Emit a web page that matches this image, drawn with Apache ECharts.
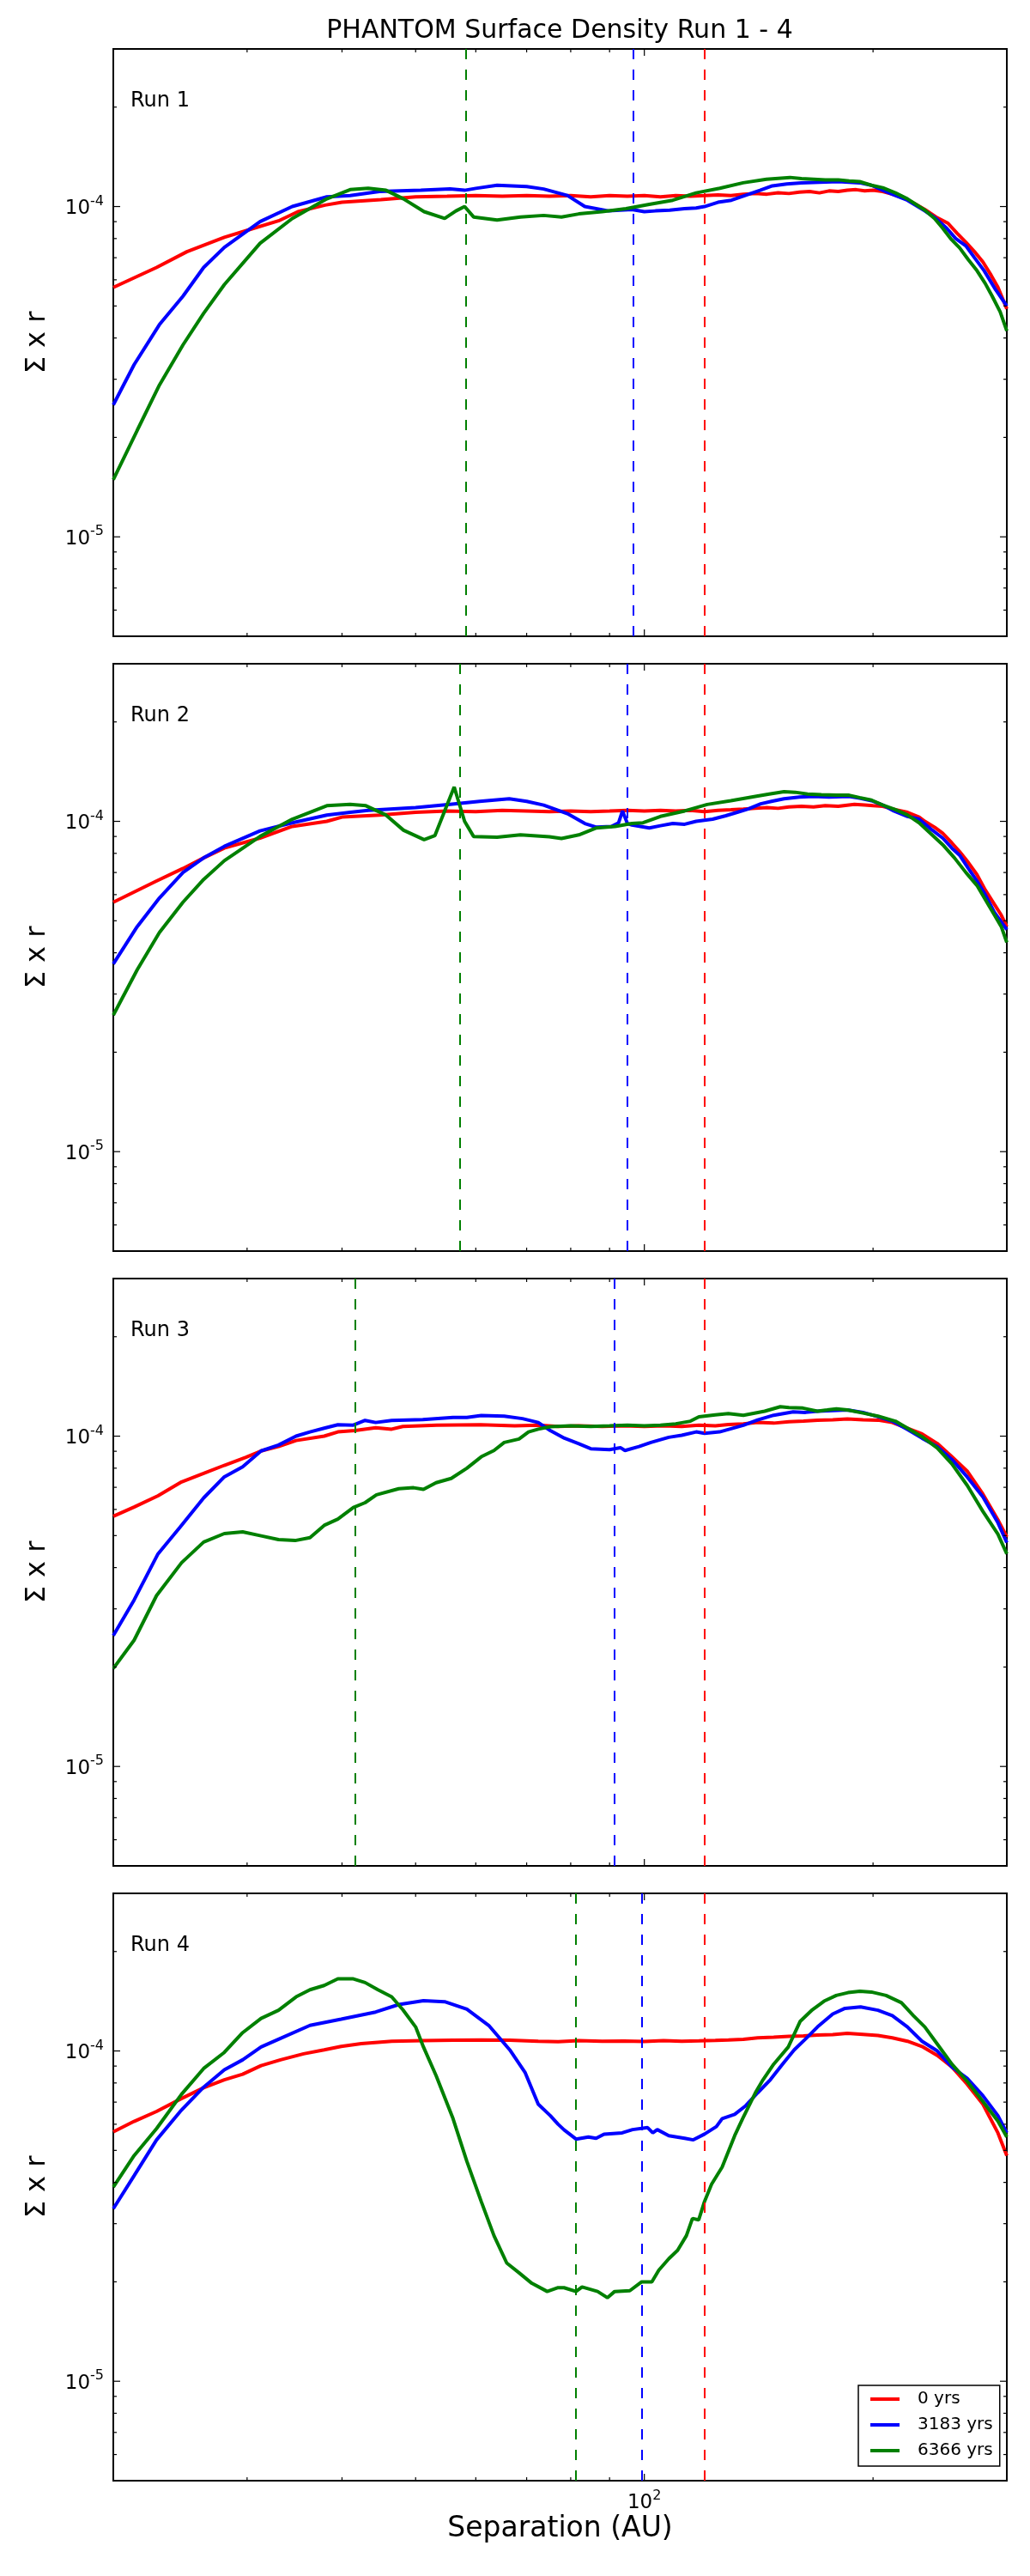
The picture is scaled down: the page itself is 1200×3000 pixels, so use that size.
<!DOCTYPE html>
<html>
<head>
<meta charset="utf-8">
<title>PHANTOM Surface Density Run 1 - 4</title>
<script src="https://cdn.jsdelivr.net/npm/echarts/dist/echarts.min.js"></script>
<style>
  html, body { margin: 0; padding: 0; background: #fff; }
  #chart { width: 1200px; height: 3000px; }
</style>
</head>
<body>
<div id="chart"></div>
<script>
// radius in AU, Σ x r in units of 1e-5
const run1Red = [[20,5.69],[22.8,6.54],[25,7.3],[28,8.07],[30,8.47],[33,9.05],[35,9.65],[38,10.1],[40,10.3],[45,10.5],[50,10.7],[55,10.75],[60,10.8],[65,10.75],[70,10.8],[75,10.75],[80,10.8],[85,10.7],[90,10.8],[95,10.75],[100,10.8],[105,10.7],[110,10.8],[115,10.75],[120,10.8],[125,10.85],[130,10.8],[135,10.9],[140,10.95],[145,10.9],[150,11.0],[155,10.95],[160,11.05],[165,11.1],[170,11.0],[175,11.15],[180,11.1],[185,11.2],[190,11.25],[195,11.15],[200,11.2],[206,11.1],[212,10.9],[220,10.6],[227,10.2],[234,9.8],[242,9.3],[251,8.9],[258,8.3],[265,7.8],[272,7.3],[279,6.8],[286,6.2],[292,5.7],[300,4.9]];
const run1Blue = [[20,2.51],[21.3,3.32],[23,4.39],[24.7,5.35],[26.3,6.54],[28,7.52],[31.2,9.0],[34.4,10.0],[38.2,10.7],[41,10.8],[44.8,11.1],[50.8,11.2],[55.5,11.3],[58,11.2],[60,11.35],[64,11.6],[70,11.5],[73.7,11.3],[79.2,10.8],[83.5,10.0],[89.7,9.7],[96.3,9.8],[100,9.65],[103.4,9.7],[108,9.75],[112.9,9.85],[117,9.9],[120,10.0],[125,10.3],[130.2,10.45],[137.3,10.9],[142,11.2],[147.4,11.55],[154,11.7],[161,11.8],[170,11.85],[180,11.9],[186,11.85],[192,11.8],[199,11.6],[206,11.2],[214,10.8],[222,10.45],[234,9.7],[242,9.2],[250,8.6],[257,8.0],[265,7.6],[272,7.0],[280,6.4],[290,5.6],[300,5.0]];
const run1Green = [[20,1.49],[21.5,2.1],[23,2.88],[24.7,3.81],[26.3,4.75],[28,5.8],[31.2,7.74],[34.4,9.2],[38.2,10.55],[41,11.25],[43.3,11.36],[45.7,11.2],[48.2,10.55],[51.3,9.65],[54.6,9.2],[56.5,9.7],[58,10.0],[59.6,9.3],[64,9.1],[68.7,9.3],[73.7,9.4],[77.8,9.3],[82,9.5],[88,9.65],[94.6,9.85],[101.5,10.15],[109,10.45],[117,11.0],[125.7,11.36],[134.9,11.8],[144.8,12.1],[155.5,12.25],[161,12.15],[167,12.1],[173,12.05],[180,12.05],[186,11.95],[192,11.9],[199,11.6],[206,11.4],[214,11.0],[222,10.55],[234,9.75],[241,9.2],[247,8.6],[253,8.0],[260,7.5],[267,6.9],[274,6.4],[281,5.85],[287,5.35],[294,4.8],[300,4.2]];
const run1Cuts = [120, 96.6, 58.2];

const run2Red = [[20,5.69],[22.8,6.6],[24.7,7.2],[26.3,7.75],[28,8.3],[31.2,8.9],[34.4,9.65],[38.2,10.0],[40,10.3],[44.8,10.45],[50,10.65],[55,10.75],[60,10.7],[65,10.8],[70,10.75],[75,10.7],[80,10.75],[85,10.7],[90,10.75],[95,10.8],[100,10.75],[105,10.8],[110,10.75],[115,10.8],[120,10.7],[125,10.8],[130,10.85],[135,10.9],[140,10.95],[145,11.0],[150,10.95],[155,11.05],[161,11.1],[167,11.05],[173,11.15],[180,11.1],[189,11.25],[195,11.2],[200,11.15],[206,11.1],[214,10.85],[222,10.65],[230,10.3],[234,10.0],[241,9.6],[247,9.2],[254,8.6],[260,8.1],[267,7.5],[274,6.9],[281,6.2],[289,5.6],[295,5.2],[300,4.8]];
const run2Blue = [[20,3.7],[21.5,4.8],[23,5.86],[24.7,7.0],[26.3,7.75],[28,8.4],[31.2,9.36],[34.4,9.9],[38.2,10.45],[41,10.65],[43.3,10.8],[50,11.0],[55.5,11.25],[60.7,11.5],[66.4,11.7],[70,11.5],[73.7,11.2],[79.2,10.55],[83.5,9.85],[86.5,9.6],[90.5,9.65],[92.5,9.9],[93.6,10.75],[95,9.85],[96.3,9.75],[101.5,9.55],[105,9.7],[109,9.85],[113,9.8],[117,10.0],[123,10.15],[128,10.4],[132.5,10.65],[137,10.9],[142.3,11.3],[147,11.5],[152.7,11.7],[160,11.85],[167,11.9],[175,11.85],[186,11.9],[192,11.75],[199,11.55],[206,11.2],[213,10.75],[222,10.35],[230,10.15],[238,9.5],[247,8.9],[254,8.3],[260,7.9],[267,7.2],[274,6.6],[281,6.0],[289,5.3],[300,4.7]];
const run2Green = [[20,2.59],[21.5,3.55],[23,4.61],[24.7,5.69],[26.3,6.67],[28,7.6],[31.2,9.0],[34.4,10.15],[38.2,11.15],[41,11.25],[43,11.15],[45.7,10.45],[48.2,9.4],[51.3,8.8],[53,9.05],[56.2,12.7],[58,10.0],[59.6,9.0],[64,8.95],[68.7,9.1],[75,8.98],[77.8,8.87],[82,9.1],[86.5,9.55],[91.5,9.65],[96.3,9.85],[99.6,9.9],[105,10.35],[113,10.75],[121,11.25],[130,11.55],[140,11.9],[146,12.1],[152.7,12.3],[158,12.25],[164,12.1],[171,12.05],[179,12.0],[186,12.0],[192,11.8],[199,11.6],[206,11.2],[214,10.85],[222,10.45],[230,9.9],[238,9.2],[247,8.5],[256,7.75],[265,7.0],[274,6.4],[281,5.8],[289,5.2],[295,4.8],[300,4.3]];
const run2Cuts = [120, 94.9, 57.2];

const run3Red = [[20,5.72],[21.3,6.1],[22.9,6.6],[24.6,7.27],[26.3,7.71],[28,8.16],[29.9,8.63],[31.3,9.02],[33,9.3],[34.8,9.7],[37.9,10.0],[39.5,10.3],[41.6,10.4],[44.3,10.6],[46.5,10.5],[48.1,10.7],[53.3,10.8],[60.9,10.83],[67.5,10.75],[72.5,10.8],[77,10.7],[82,10.75],[88,10.7],[94,10.75],[100,10.7],[106,10.75],[112,10.7],[118,10.8],[124,10.75],[129,10.85],[135,10.9],[141,11.0],[148,10.95],[155,11.05],[162,11.1],[169,11.18],[177,11.2],[185,11.27],[194,11.2],[203,11.18],[212,11.0],[222,10.57],[232,10.16],[243,9.5],[254,8.66],[266,7.84],[279,6.68],[292,5.58],[300,4.95]];
const run3Blue = [[20,2.49],[21.3,3.19],[22.9,4.4],[24.5,5.31],[26.3,6.5],[28,7.53],[29.6,8.08],[31.3,9.02],[33,9.4],[34.8,10.0],[36.3,10.3],[37.9,10.57],[39.5,10.83],[41.4,10.8],[42.9,11.16],[44.3,11.0],[46.5,11.16],[51.1,11.23],[56,11.4],[58.4,11.4],[61,11.55],[65.4,11.5],[69.1,11.3],[72.5,11.0],[75.2,10.4],[78.5,9.86],[82,9.48],[85,9.16],[90,9.1],[93,9.23],[94.3,9.05],[98.4,9.3],[102,9.57],[107.7,9.92],[112,10.06],[117,10.3],[120,10.2],[125.6,10.3],[135,10.79],[141,11.2],[148,11.57],[157,11.85],[163,11.8],[169,11.9],[177,11.95],[185,12.0],[194,11.8],[203,11.45],[212,11.1],[222,10.47],[232,9.86],[243,9.3],[254,8.5],[266,7.53],[279,6.55],[292,5.47],[300,4.76]];
const run3Green = [[20,1.98],[21.3,2.41],[22.8,3.29],[24.6,4.14],[26.3,4.78],[28,5.07],[29.6,5.13],[31.3,4.99],[33,4.86],[34.7,4.83],[36.3,4.93],[37.9,5.37],[39.5,5.61],[41.4,6.08],[42.9,6.29],[44.4,6.64],[47.5,6.93],[49.7,6.98],[51.2,6.9],[53.2,7.23],[55.7,7.45],[58.4,8.0],[61,8.66],[63.4,9.05],[65.4,9.57],[68.4,9.8],[70.4,10.3],[72.5,10.5],[75.2,10.68],[80,10.75],[85,10.7],[90,10.75],[95,10.8],[100,10.75],[105,10.8],[110,10.9],[115,11.1],[118,11.45],[124,11.6],[129,11.7],[135,11.57],[144,11.9],[151,12.28],[155,12.2],[161.7,12.16],[169,11.9],[174,12.0],[179,12.1],[185,12.0],[194,11.75],[203,11.5],[214,11.1],[222,10.57],[232,9.96],[243,9.2],[254,8.24],[266,7.1],[279,5.92],[292,5.05],[300,4.4]];
const run3Cuts = [120, 91.4, 41.6];

const run4Red = [[20,5.69],[21.3,6.12],[22.8,6.56],[24.6,7.18],[26.3,7.74],[28,8.18],[29.6,8.5],[31.3,9.03],[33.2,9.4],[35.6,9.8],[37.9,10.08],[39.9,10.32],[42.4,10.53],[46.5,10.7],[51.1,10.74],[56,10.78],[61,10.8],[66.5,10.78],[72.5,10.7],[77,10.66],[82,10.75],[88,10.7],[94,10.72],[100,10.68],[106,10.75],[112,10.7],[118,10.73],[124,10.76],[129,10.8],[135,10.85],[141,10.96],[148,11.0],[155,11.07],[162,11.1],[169,11.18],[177,11.2],[185,11.3],[194,11.22],[203,11.14],[212,10.96],[222,10.7],[232,10.32],[243,9.69],[254,8.94],[266,7.93],[279,6.9],[292,5.65],[300,4.82]];
const run4Blue = [[20,3.33],[21.3,4.19],[22.8,5.38],[24.5,6.56],[26.3,7.77],[28,8.77],[29.6,9.4],[31.3,10.28],[33.2,10.92],[36.3,11.95],[39.9,12.48],[44.3,13.12],[47.5,13.82],[51.2,14.2],[54.6,14.1],[58.4,13.38],[62.4,11.95],[66.5,10.08],[69.7,8.59],[72.5,6.9],[75.2,6.37],[77,6.0],[78.4,5.77],[81.3,5.41],[84.4,5.49],[86.4,5.44],[88.5,5.6],[93.5,5.65],[96.5,5.78],[101,5.86],[102.6,5.65],[104,5.78],[107.7,5.54],[113,5.44],[116,5.38],[120,5.6],[124.4,5.9],[126.6,6.24],[131.5,6.43],[136,6.83],[141,7.47],[146.5,8.18],[152,9.12],[157.5,10.08],[163.3,10.92],[169,11.82],[177,12.94],[183.7,13.46],[192.6,13.6],[203,13.28],[212,12.8],[222,11.82],[232,10.7],[243,10.0],[254,8.94],[266,8.26],[279,7.32],[292,6.37],[300,5.65]];
const run4Green = [[20,3.87],[21.3,4.82],[22.8,5.82],[24.6,7.4],[26.3,8.85],[28,9.9],[29.6,11.36],[31.3,12.55],[33,13.28],[34.8,14.58],[36.3,15.32],[37.9,15.79],[39.5,16.53],[41.4,16.53],[42.9,16.11],[44.6,15.32],[46.5,14.58],[48.1,13.33],[50,11.82],[51.2,10.28],[53.2,8.42],[56,6.24],[58.4,4.63],[61,3.5],[63.4,2.76],[65.9,2.28],[68.4,2.13],[71.1,1.98],[74.5,1.87],[77,1.92],[78.4,1.92],[81.3,1.87],[82.8,1.93],[86.8,1.87],[89.4,1.79],[91.4,1.87],[95.7,1.88],[99.2,2.0],[102.3,2.0],[104.5,2.17],[107.7,2.35],[110.6,2.49],[113.6,2.76],[115.7,3.11],[117.9,3.08],[120,3.5],[122.6,3.95],[126.6,4.45],[131.5,5.54],[134.7,6.24],[140,7.47],[143.3,8.18],[148,9.12],[154.7,10.28],[160.4,12.3],[166.4,13.33],[172.4,14.15],[178.9,14.73],[185.4,15.02],[192.2,15.17],[199,15.08],[208,14.73],[218,14.0],[226,12.8],[234,11.82],[243,10.49],[254,9.12],[266,8.1],[279,7.04],[292,6.13],[300,5.49]];
const run4Cuts = [120, 99.2, 81.2];

const seriesNames = ['0 yrs', '3183 yrs', '6366 yrs'];
const runLabels = ['Run 1', 'Run 2', 'Run 3', 'Run 4'];
const runLines = [
  [run1Red, run1Blue, run1Green],
  [run2Red, run2Blue, run2Green],
  [run3Red, run3Blue, run3Green],
  [run4Red, run4Blue, run4Green]
];
const runCuts = [run1Cuts, run2Cuts, run3Cuts, run4Cuts];

const yMajorTicks = [1e-5, 1e-4];
const yMinorTicks = [6e-6, 7e-6, 8e-6, 9e-6, 2e-5, 3e-5, 4e-5, 5e-5, 6e-5, 7e-5, 8e-5, 9e-5, 2e-4];
const xMajorTicks = [100];
const xMinorTicks = [30, 40, 50, 60, 70, 80, 90, 200];

const FONT = '"DejaVu Sans", sans-serif';
const colors = ['#ff0000', '#0000ff', '#008000'];
const GRID_LEFT = 132, GRID_W = 1041, GRID_TOP = 57, GRID_STEP = 716, GRID_H = 684;

// 10^n label with a raised exponent
function powLabel(v, only) {
  const lg = Math.log10(v);
  const p = Math.round(lg);
  if (Math.abs(lg - p) > 1e-6) return '';
  if (only !== undefined && p !== only) return '';
  return '{b|10}{s|' + p + '}';
}
const powRich = {
  b: { fontSize: 23, fontFamily: FONT, color: '#000', verticalAlign: 'bottom' },
  s: { fontSize: 16, fontFamily: FONT, color: '#000', verticalAlign: 'bottom', padding: [0, 0, 12, 0] }
};

const chart = echarts.init(document.getElementById('chart'));

const grids = [], xAxes = [], yAxes = [], series = [];
runLines.forEach((lines, i) => {
  grids.push({
    left: GRID_LEFT, width: GRID_W, top: GRID_TOP + i * GRID_STEP, height: GRID_H,
    show: true, borderColor: '#000', borderWidth: 2, backgroundColor: 'transparent'
  });
  xAxes.push({
    type: 'log', logBase: 10, gridIndex: i, min: 20, max: 300,
    axisLine: { show: false }, axisTick: { show: false }, splitLine: { show: false },
    axisLabel: { show: i === 3, formatter: v => powLabel(v, 2), rich: powRich, margin: 10 },
    name: i === 3 ? 'Separation (AU)' : '',
    nameLocation: 'middle', nameGap: 40,
    nameTextStyle: { fontSize: 33, fontFamily: FONT, color: '#000' }
  });
  yAxes.push({
    type: 'log', logBase: 10, gridIndex: i, min: 5e-6, max: 3e-4,
    axisLine: { show: false }, axisTick: { show: false }, splitLine: { show: false },
    axisLabel: { formatter: v => powLabel(v), rich: powRich, margin: 11 },
    name: 'Σ x r', nameLocation: 'middle', nameRotate: 90, nameGap: 72,
    nameTextStyle: { fontSize: 32, fontFamily: FONT, color: '#000' }
  });
  lines.forEach((pts, k) => {
    series.push({
      name: seriesNames[k], type: 'line', xAxisIndex: i, yAxisIndex: i,
      data: pts.map(p => [p[0], p[1] * 1e-5]),
      symbol: 'none', showSymbol: false,
      lineStyle: { color: colors[k], width: 4 },
      itemStyle: { color: colors[k] },
      markLine: {
        silent: true, symbol: ['none', 'none'], label: { show: false },
        lineStyle: { color: colors[k], type: [12, 12], width: 2 },
        data: [{ xAxis: runCuts[i][k] }]
      }
    });
  });
});

chart.setOption({
  animation: false,
  backgroundColor: '#fff',
  grid: grids, xAxis: xAxes, yAxis: yAxes, series: series,
  legend: {
    data: seriesNames, orient: 'vertical', left: 1000, top: 2778,
    icon: 'rect', itemWidth: 34, itemHeight: 4, itemGap: 10,
    padding: [6, 8, 8, 14], borderColor: '#000', borderWidth: 1.5, backgroundColor: '#fff',
    selectedMode: false,
    textStyle: { fontSize: 20, fontFamily: FONT, color: '#000', padding: [0, 0, 0, 16] }
  }
});

// title, run labels and the inward log ticks on all four sides
const g = [];
g.push({
  type: 'text', x: 652, y: 36, silent: true,
  style: { text: 'PHANTOM Surface Density Run 1 - 4', font: '30px ' + FONT, fill: '#000',
           textAlign: 'center', textVerticalAlign: 'middle', align: 'center', verticalAlign: 'middle' }
});
runLabels.forEach((label, i) => {
  const top = GRID_TOP + i * GRID_STEP;
  const bottom = top + GRID_H;
  const right = GRID_LEFT + GRID_W;
  g.push({
    type: 'text', x: 152, y: top + 61, silent: true,
    style: { text: label, font: '24px ' + FONT, fill: '#000',
             textAlign: 'left', textVerticalAlign: 'middle', align: 'left', verticalAlign: 'middle' }
  });
  const tick = (x1, y1, x2, y2) => g.push({
    type: 'line', silent: true, z: 10,
    shape: { x1: x1, y1: y1, x2: x2, y2: y2 }, style: { stroke: '#000', lineWidth: 1.2 }
  });
  yMajorTicks.concat(yMinorTicks).forEach(v => {
    const len = yMajorTicks.includes(v) ? 8 : 4;
    const y = chart.convertToPixel({ yAxisIndex: i }, v);
    tick(GRID_LEFT, y, GRID_LEFT + len, y);
    tick(right, y, right - len, y);
  });
  xMajorTicks.concat(xMinorTicks).forEach(r => {
    const len = xMajorTicks.includes(r) ? 8 : 4;
    const x = chart.convertToPixel({ xAxisIndex: i }, r);
    tick(x, bottom, x, bottom - len);
    tick(x, top, x, top + len);
  });
});
chart.setOption({ graphic: g });
</script>
</body>
</html>
